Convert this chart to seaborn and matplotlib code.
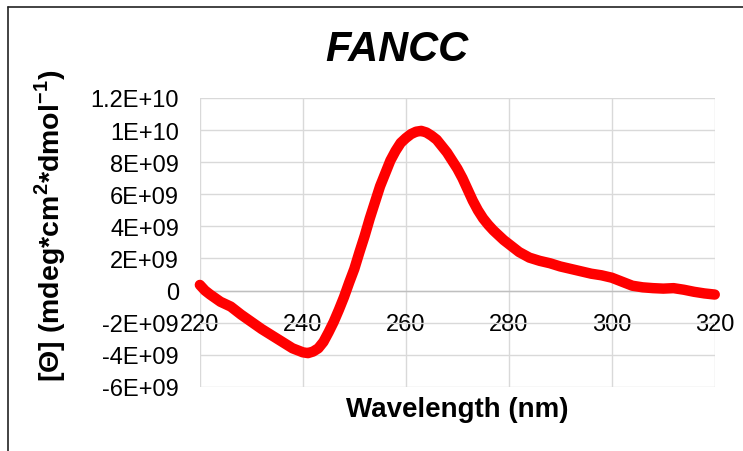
import numpy as np
import pandas as pd
import seaborn as sns
import matplotlib.pyplot as plt
from matplotlib.lines import Line2D

# CD spectrum values
wavelength = [220, 221, 222, 224, 226, 228, 230, 232, 234, 236, 238, 240, 241, 242, 243, 244,
              245, 246, 247, 248, 249, 250, 251, 252, 253, 254, 255, 256, 257, 258, 259, 260,
              261, 262, 263, 264, 265, 266, 267, 268, 269, 270, 271, 272, 273, 274, 275, 276,
              277, 278, 279, 280, 282, 284, 286, 288, 290, 292, 294, 296, 298, 300, 302, 304,
              306, 308, 310, 312, 314, 316, 318, 320]
theta_e9 = [0.35, 0.0, -0.25, -0.7, -1.0, -1.5, -1.95, -2.4, -2.8, -3.2, -3.6, -3.85, -3.9, -3.8, -3.6, -3.2,
            -2.6, -1.95, -1.2, -0.4, 0.5, 1.35, 2.4, 3.4, 4.5, 5.5, 6.5, 7.3, 8.1, 8.7, 9.2, 9.5,
            9.75, 9.9, 9.95, 9.85, 9.65, 9.4, 9.0, 8.6, 8.1, 7.6, 7.0, 6.3, 5.6, 5.0, 4.5, 4.1,
            3.75, 3.45, 3.15, 2.9, 2.4, 2.05, 1.85, 1.7, 1.5, 1.35, 1.2, 1.05, 0.95, 0.8, 0.55, 0.3,
            0.2, 0.15, 0.12, 0.15, 0.05, -0.08, -0.18, -0.25]

x_ticks = [220, 240, 260, 280, 300, 320]
y_ticks = [-6e9, -4e9, -2e9, 0, 2e9, 4e9, 6e9, 8e9, 1e10, 1.2e10]
y_ticklabels = ["-6E+09", "-4E+09", "-2E+09", "0", "2E+09", "4E+09", "6E+09", "8E+09", "1E+10", "1.2E+10"]

df = pd.DataFrame({"wavelength": wavelength, "theta": np.array(theta_e9) * 1e9})

sns.set_style("whitegrid", {"grid.color": "#D9D9D9"})
plt.rcParams["font.family"] = ["Liberation Sans", "DejaVu Sans"]
plt.rcParams["text.color"] = "black"
plt.rcParams["axes.labelcolor"] = "black"
plt.rcParams["xtick.color"] = "black"
plt.rcParams["ytick.color"] = "black"
plt.rcParams["mathtext.fontset"] = "custom"
plt.rcParams["mathtext.rm"] = "Liberation Sans"
plt.rcParams["mathtext.bf"] = "Liberation Sans:bold"

fig = plt.figure(figsize=(7.43, 4.52), dpi=100)
ax = fig.add_axes([0.269, 0.142, 0.693, 0.639])

# move the x axis to y = 0 first, this resets tick settings
for s in ["top", "right", "left"]:
    ax.spines[s].set_visible(False)
ax.spines["bottom"].set_position(("data", 0))
ax.spines["bottom"].set_color("#BFBFBF")
ax.spines["bottom"].set_linewidth(1.0)

sns.lineplot(data=df, x="wavelength", y="theta", sort=False, color="#FF0000",
             linewidth=7.5, solid_capstyle="round", clip_on=False, zorder=5, ax=ax)

ax.set_xlim(220, 320)
ax.set_ylim(-6e9, 1.2e10)
ax.set_xticks(x_ticks)
ax.set_xticklabels([str(t) for t in x_ticks], fontsize=17)
ax.set_yticks(y_ticks)
ax.set_yticklabels(y_ticklabels, fontsize=17)
ax.grid(True, color="#D9D9D9", linewidth=1.0)
ax.tick_params(axis="both", length=0, colors="black")
ax.tick_params(axis="x", pad=16)
ax.tick_params(axis="y", pad=15)

ax.set_xlabel("Wavelength (nm)", fontsize=20, fontweight="bold")
ax.xaxis.set_label_coords(0.5, -0.076)
ax.xaxis.label.set_va("center")
ax.set_ylabel(r"[Θ] (mdeg*cm$^\mathbf{2}$*dmol$^\mathbf{-1}$)", fontsize=20.5, fontweight="bold")
ax.yaxis.set_label_coords(-0.29, 0.56)
ax.yaxis.label.set_va("center")

fig.text(0.534, 0.89, "FANCC", fontsize=30, fontweight="bold", style="italic",
         ha="center", va="center")

# chart frame, only top and left edges visible in the crop
fig.add_artist(Line2D([8 / 743, 1.0], [1 - 8 / 452, 1 - 8 / 452], color="#222222", linewidth=1.2))
fig.add_artist(Line2D([8 / 743, 8 / 743], [0.0, 1 - 8 / 452], color="#222222", linewidth=1.2))

fig.savefig("out.png", dpi=100)
